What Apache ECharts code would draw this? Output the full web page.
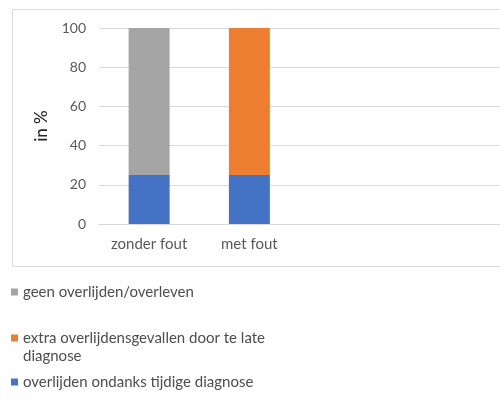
<!DOCTYPE html>
<html>
<head>
<meta charset="utf-8">
<script src="https://cdn.jsdelivr.net/npm/echarts@6/dist/echarts.min.js"></script>
<style>
  html, body { margin: 0; padding: 0; background: #fff; }
  #chart { width: 500px; height: 400px; }
</style>
</head>
<body>
<div id="chart"></div>
<script>
// categories (the last two are empty slots, the source image is cropped on the right)
const categories = ["zonder fout", "met fout", "", ""];
const seriesNames = [
  "overlijden ondanks tijdige diagnose",
  "geen overlijden/overleven",
  "extra overlijdensgevallen door te late\ndiagnose"
];
const blueValues = [25, 25, null, null];
const grayValues = [75, null, null, null];
const orangeValues = [null, 75, null, null];
const yTicks = [0, 20, 40, 60, 80, 100];

const colors = ["#4472c4", "#a5a5a5", "#ed7d31"];
const font = "Lato, 'Open Sans', sans-serif";

const chart = echarts.init(document.getElementById("chart"));

const legendBase = {
  orient: "vertical",
  left: 11,
  padding: 0,
  icon: "rect",
  itemWidth: 7,
  itemHeight: 7,
  itemGap: 3,
  textStyle: { fontFamily: font, fontSize: 15, color: "#4d4d4d", lineHeight: 18 },
  selectedMode: false
};

const option = {
  animation: false,
  textStyle: { fontFamily: font },
  graphic: [{
    type: "rect",
    shape: { x: 12.5, y: 9.5, width: 500, height: 257 },
    style: { fill: "none", stroke: "#d9d9d9", lineWidth: 1 },
    silent: true
  }],
  legend: [
    Object.assign({}, legendBase, { top: 283, data: [seriesNames[1]] }),
    // square sits on the first line of the wrapped name
    Object.assign({}, legendBase, {
      top: 329,
      itemHeight: 25,
      icon: "path://M0,0h7v7h-7z M0,25h0.01v0.01h-0.01z",
      data: [seriesNames[2]]
    }),
    Object.assign({}, legendBase, { top: 373, data: [seriesNames[0]] })
  ],
  grid: { left: 99, right: -5, top: 28, bottom: 176 },
  xAxis: {
    type: "category",
    data: categories,
    axisLine: { lineStyle: { color: "#d9d9d9" } },
    axisTick: { show: false },
    axisLabel: { color: "#595959", fontSize: 15, margin: 13, fontFamily: font }
  },
  yAxis: {
    type: "value",
    min: yTicks[0],
    max: yTicks[yTicks.length - 1],
    interval: 20,
    name: "in %",
    nameLocation: "middle",
    nameRotate: 90,
    nameGap: 49,
    nameTextStyle: { fontSize: 17, color: "#262626", fontFamily: font, fontWeight: 500 },
    axisLine: { show: false },
    axisTick: { show: false },
    axisLabel: { color: "#595959", fontSize: 14, margin: 13, fontFamily: font },
    splitLine: { lineStyle: { color: "#d9d9d9" } }
  },
  series: [
    { name: seriesNames[0], type: "bar", stack: "a", barWidth: 41, data: blueValues, itemStyle: { color: colors[0] } },
    { name: seriesNames[1], type: "bar", stack: "a", barWidth: 41, data: grayValues, itemStyle: { color: colors[1] } },
    { name: seriesNames[2], type: "bar", stack: "a", barWidth: 41, data: orangeValues, itemStyle: { color: colors[2] } }
  ]
};

chart.setOption(option);
</script>
</body>
</html>
